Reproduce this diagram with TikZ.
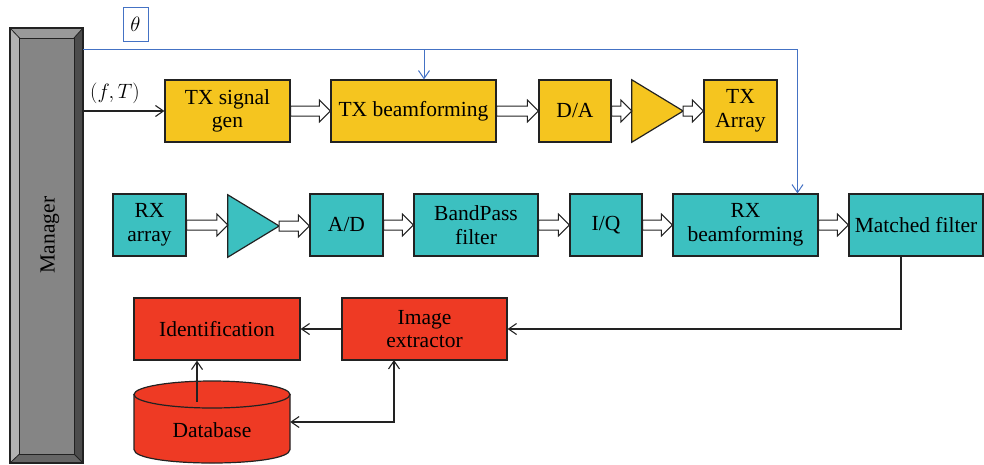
\documentclass[tikz,border=0pt]{standalone}
\usepackage{fontspec}
\setmainfont{Liberation Serif}
\usetikzlibrary{arrows.meta,calc}
\definecolor{cyel}{HTML}{F5C51F}
\definecolor{cteal}{HTML}{3CC0C0}
\definecolor{cred}{HTML}{EE3A24}
\definecolor{cblue}{HTML}{4472C4}
\definecolor{cline}{HTML}{222222}
\newcommand\harr[2]{\draw[fill=white,draw=cline,line width=1pt] let \p1=(#1.east), \p2=(#2.west) in
  (\x1,\y1+5pt) -- (\x2-11pt,\y1+5pt) -- (\x2-11pt,\y1+11pt) -- (\x2,\y1) -- (\x2-11pt,\y1-11pt) -- (\x2-11pt,\y1-5pt) -- (\x1,\y1-5pt) -- cycle;}
\begin{document}
\begin{tikzpicture}[x=1pt,y=-1pt,
  txt/.style={font=\fontsize{21.5}{23.5}\selectfont},
  blk/.style={txt,draw=cline,line width=1.2pt,minimum height=62pt,inner sep=0pt,align=center},
  yb/.style={blk,fill=cyel},
  tb/.style={blk,fill=cteal},
  rb/.style={blk,fill=cred},
  ph/.style={inner sep=0pt,minimum height=62pt},
  conn/.style={draw=cline,line width=1.1pt,-{Straight Barb[length=8pt,width=11pt]}},
  bconn/.style={draw=cblue,line width=1pt,-{Straight Barb[length=8pt,width=11pt]}}]
\useasboundingbox (0,0) rectangle (984,464);

% Manager (bevelled)
\node[inner sep=0pt,minimum width=73pt,minimum height=435pt] (mgr) at (46.5,245.5) {};
\fill[fill=black!30] (10,28) -- (19.5,38) -- (19.5,454) -- (10,463) -- cycle;
\fill[fill=black!40] (10,28) -- (83,28) -- (74,38) -- (19.5,38) -- cycle;
\fill[fill=black!70] (83,28) -- (83,463) -- (74,454) -- (74,38) -- cycle;
\fill[fill=black!60] (10,463) -- (83,463) -- (74,454) -- (19.5,454) -- cycle;
\draw[fill=black!48,draw=cline,line width=1pt] (19.5,38) rectangle (74,454);
\draw[draw=cline,line width=1.2pt] (10,28) rectangle (83,463);
\draw[draw=cline,line width=0.8pt] (10,28) -- (19.5,38) (83,28) -- (74,38) (10,463) -- (19.5,454) (83,463) -- (74,454);
\node[txt,rotate=90] at (50,235) {Manager};

% theta
\node[draw=cblue,line width=0.8pt,minimum width=25pt,minimum height=34pt,inner sep=0pt,font=\fontsize{22}{24}\selectfont] (th) at (135.5,24) {$\theta$};

% Top row
\node[yb,minimum width=125pt] (txg) at (227.5,111) {TX signal\\gen};
\node[yb,minimum width=165pt] (txb) at (413.5,111) {TX beamforming};
\node[yb,minimum width=72pt] (da) at (575,111) {D/A};
\node[ph,minimum width=51pt] (amp1) at (657.5,111) {};
\draw[fill=cyel,draw=cline,line width=1.2pt] (amp1.north west) -- (amp1.east) -- (amp1.south west) -- cycle;
\node[yb,minimum width=73pt] (txa) at (740.5,111) {TX\\Array};

% Second row
\node[tb,minimum width=73pt] (rxa) at (149.5,225) {RX\\array};
\node[ph,minimum width=51pt] (amp2) at (253.5,226) {};
\draw[fill=cteal,draw=cline,line width=1.2pt] (amp2.north west) -- (amp2.east) -- (amp2.south west) -- cycle;
\node[tb,minimum width=73pt] (ad) at (346.5,225) {A/D};
\node[tb,minimum width=124pt] (bp) at (476,225) {BandPass\\filter};
\node[tb,minimum width=72pt] (iq) at (606,225) {I/Q};
\node[tb,minimum width=145pt] (rxb) at (745.5,225) {RX\\beamforming};
\node[tb,minimum width=134pt] (mf) at (916,225) {Matched filter};

% Third row
\node[rb,minimum width=166pt] (idn) at (217,329) {Identification};
\node[rb,minimum width=165pt] (imgx) at (424.5,329) {Image\\extractor};

% Database cylinder
\node[inner sep=0pt,minimum width=156pt,minimum height=82pt] (db) at (212,422) {};
\draw[fill=cred,draw=cline,line width=1.2pt] (134,394.5) -- (134,449.5) .. controls (134,467.5) and (290,467.5) .. (290,449.5) -- (290,394.5) -- cycle;
\draw[fill=cred,draw=cline,line width=1.2pt] (212,394.5) ellipse [x radius=78, y radius=13.5];
\node[txt] at (212,430) {Database};

% hollow arrows
\harr{txg}{txb}
\harr{txb}{da}
\harr{da}{amp1}
\harr{amp1}{txa}
\harr{rxa}{amp2}
\harr{amp2}{ad}
\harr{ad}{bp}
\harr{bp}{iq}
\harr{iq}{rxb}
\harr{rxb}{mf}

% blue control lines
\coordinate (bj) at (424,49.5);
\coordinate (bk) at (797.5,49.5);
\draw[draw=cblue,line width=1pt] (mgr.east |- bk) -- (bk);
\draw[bconn] (bk) -- (bk |- rxb.north);
\draw[bconn] (bj) -- (bj |- txb.north);

% (f,T)
\draw[conn] (mgr.east |- txg.west) -- (txg.west);
\node[font=\fontsize{20}{22}\selectfont] (ft) at (115,93) {$(f,T)$};

% lower connectors
\coordinate (mfo) at (901,256);
\draw[conn] (mfo) |- (imgx.east);
\draw[conn] (imgx.west) -- (idn.east);
\coordinate (dbo) at (197,401.7);
\draw[conn] (dbo) -- (dbo |- idn.south);
\coordinate (ixb) at (394,360);
\draw[conn,{Straight Barb[length=8pt,width=11pt]}-{Straight Barb[length=8pt,width=11pt]}] (db.east) -| (ixb);
\end{tikzpicture}
\end{document}
